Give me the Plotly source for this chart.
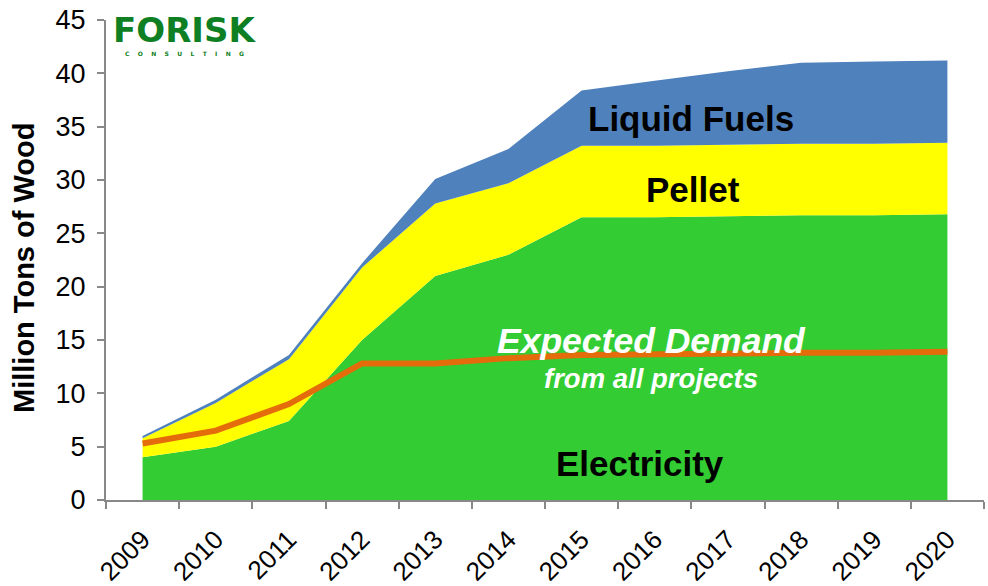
import plotly.graph_objects as go

years = ["2009", "2010", "2011", "2012", "2013", "2014", "2015", "2016", "2017", "2018", "2019", "2020"]
electricity = [4.0, 5.0, 7.4, 15.0, 21.0, 23.0, 26.5, 26.5, 26.6, 26.7, 26.7, 26.8]
pellet = [1.8, 4.1, 5.8, 6.8, 6.8, 6.7, 6.7, 6.7, 6.7, 6.7, 6.7, 6.7]
liquid_fuels = [0.2, 0.3, 0.4, 0.4, 2.3, 3.2, 5.2, 6.1, 6.9, 7.6, 7.7, 7.7]
expected_demand = [5.3, 6.5, 9.0, 12.8, 12.8, 13.3, 13.6, 13.7, 13.7, 13.8, 13.8, 13.9]
y_ticks = [0, 5, 10, 15, 20, 25, 30, 35, 40, 45]

FONT = "Liberation Sans, Arial, sans-serif"

W, H = 988, 586
L, T, PW, PH = 106, 20, 878, 480

fig = go.Figure()
fig.add_trace(go.Scatter(x=years, y=electricity, stackgroup="s", mode="none",
                         fillcolor="#33CC33", name="Electricity"))
fig.add_trace(go.Scatter(x=years, y=pellet, stackgroup="s", mode="none",
                         fillcolor="#FFFF00", name="Pellet"))
fig.add_trace(go.Scatter(x=years, y=liquid_fuels, stackgroup="s", mode="none",
                         fillcolor="#4F81BD", name="Liquid Fuels"))
fig.add_trace(go.Scatter(x=years, y=expected_demand, mode="lines",
                         line=dict(color="#E46C0A", width=6), name="Expected Demand"))

ann = [
    dict(x=7.5, y=35.8, text="<b>Liquid Fuels</b>", font=dict(size=35, color="black")),
    dict(x=7.52, y=29.1, text="<b>Pellet</b>", font=dict(size=35, color="black")),
    dict(x=6.8, y=3.4, text="<b>Electricity</b>", font=dict(size=35, color="black")),
    dict(x=6.96, y=14.9, text="<b><i>Expected Demand</i></b>", font=dict(size=35.5, color="white")),
    dict(x=6.95, y=11.4, text="<b><i>from all projects</i></b>", font=dict(size=27.5, color="white")),
]
annotations = []
for a in ann:
    a.update(xref="x", yref="y", showarrow=False, xanchor="center", yanchor="middle")
    a["font"]["family"] = FONT
    annotations.append(a)


def px(xs):
    return (xs - L) / PW


def py(ys):
    return (T + PH - ys) / PH


annotations.append(dict(xref="paper", yref="paper", x=px(24), y=py(268),
                        text="<b>Million Tons of Wood</b>", textangle=-90, showarrow=False,
                        xanchor="center", yanchor="middle",
                        font=dict(family=FONT, size=29, color="black")))
annotations.append(dict(xref="paper", yref="paper", x=px(184), y=py(30), borderpad=0,
                        text="<b>FORISK</b>", showarrow=False, xanchor="center", yanchor="middle",
                        font=dict(family="DejaVu Sans, sans-serif", size=34, color="#0E7F22")))
spaced = "&nbsp;&nbsp;&nbsp;&nbsp;".join(list("CONSULTING"))
annotations.append(dict(xref="paper", yref="paper", x=px(184), y=py(54), borderpad=0,
                        text="<b>" + spaced + "</b>", showarrow=False, xanchor="center",
                        yanchor="middle",
                        font=dict(family="DejaVu Sans, sans-serif", size=6, color="#0E7F22")))

fig.update_layout(
    width=W, height=H,
    margin=dict(l=L, r=W - L - PW, t=T, b=H - T - PH),
    paper_bgcolor="white", plot_bgcolor="white",
    showlegend=False,
    font=dict(family=FONT, size=26, color="black"),
    annotations=annotations,
    xaxis=dict(type="category", range=[-0.5, 11.5], tickson="boundaries", automargin=False,
               ticks="outside", ticklen=7, tickwidth=2, tickcolor="#888888",
               showline=True, linecolor="#888888", linewidth=2, showgrid=False,
               tickangle=-45, tickfont=dict(size=26), ticklabelstandoff=12,
               ticklabeloverflow="allow"),
    yaxis=dict(range=[0, 45], tickvals=y_ticks, ticks="outside", ticklen=7, tickwidth=2,
               automargin=False, ticklabelstandoff=6, ticklabeloverflow="allow",
               tickcolor="#888888", showline=True, linecolor="#888888", linewidth=2,
               showgrid=False, zeroline=False, tickfont=dict(size=27)),
)

fig.write_html("out.html", config={"displayModeBar": False},
               post_script="document.body.style.margin='0';document.body.style.overflow='hidden';")
